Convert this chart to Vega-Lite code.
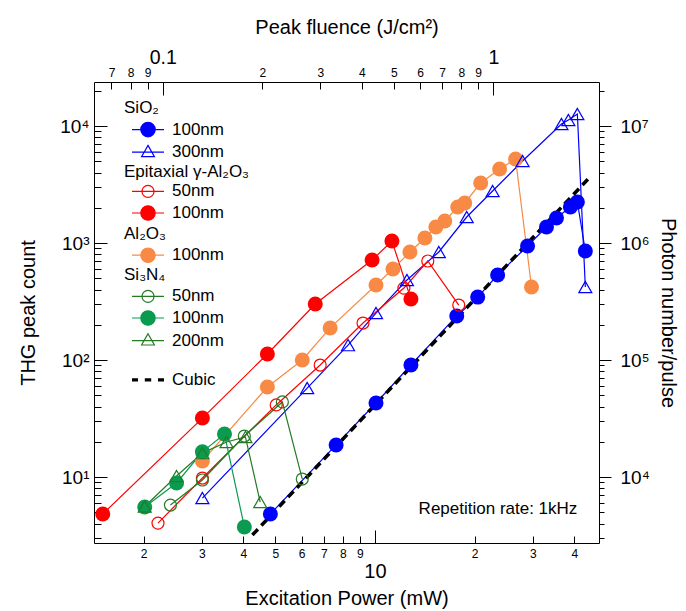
{
  "$schema": "https://vega.github.io/schema/vega-lite/v6.json",
  "width": 505,
  "height": 461,
  "autosize": {"type": "none"},
  "padding": {"left": 94, "top": 82, "right": 87, "bottom": 68},
  "background": "white",
  "config": {
    "font": "Liberation Sans",
    "view": {"stroke": null},
    "axis": {
      "grid": false,
      "domainColor": "#000000",
      "tickColor": "#000000",
      "labelColor": "#000000",
      "titleColor": "#000000",
      "titleFontWeight": "normal",
      "labelOverlap": false,
      "labelFlush": false,
      "labelBound": false,
      "domainWidth": 1,
      "tickWidth": 1,
      "titleFont": "Liberation Sans",
      "labelFont": "Liberation Sans"
    },
    "legend": {
      "orient": "none",
      "padding": 0,
      "labelFontSize": 17,
      "labelFont": "Liberation Sans",
      "labelColor": "#000000",
      "labelOffset": 15,
      "labelLimit": 300,
      "symbolSize": 256,
      "symbolStrokeWidth": 1.2,
      "symbolOffset": 0,
      "rowPadding": 2.6
    }
  },
  "datasets": {
    "thg": [
      {"series": "SiO₂ 100nm", "power": 4.83, "count": 4.83},
      {"series": "SiO₂ 100nm", "power": 7.63, "count": 18.8},
      {"series": "SiO₂ 100nm", "power": 10.07, "count": 42.9},
      {"series": "SiO₂ 100nm", "power": 12.84, "count": 90.6},
      {"series": "SiO₂ 100nm", "power": 17.66, "count": 238},
      {"series": "SiO₂ 100nm", "power": 20.43, "count": 345},
      {"series": "SiO₂ 100nm", "power": 23.47, "count": 533},
      {"series": "SiO₂ 100nm", "power": 28.9, "count": 943},
      {"series": "SiO₂ 100nm", "power": 32.97, "count": 1370},
      {"series": "SiO₂ 100nm", "power": 35.34, "count": 1636},
      {"series": "SiO₂ 100nm", "power": 38.94, "count": 2031},
      {"series": "SiO₂ 100nm", "power": 40.87, "count": 2241},
      {"series": "SiO₂ 100nm", "power": 43.2, "count": 854},
      {"series": "SiO₂ 300nm", "power": 3.01, "count": 6.61},
      {"series": "SiO₂ 300nm", "power": 6.24, "count": 57.6},
      {"series": "SiO₂ 300nm", "power": 8.29, "count": 134},
      {"series": "SiO₂ 300nm", "power": 10.07, "count": 252},
      {"series": "SiO₂ 300nm", "power": 12.49, "count": 483},
      {"series": "SiO₂ 300nm", "power": 15.59, "count": 838},
      {"series": "SiO₂ 300nm", "power": 18.93, "count": 1668},
      {"series": "SiO₂ 300nm", "power": 22.67, "count": 2783},
      {"series": "SiO₂ 300nm", "power": 27.92, "count": 5022},
      {"series": "SiO₂ 300nm", "power": 36.59, "count": 10402},
      {"series": "SiO₂ 300nm", "power": 38.4, "count": 11253},
      {"series": "SiO₂ 300nm", "power": 40.87, "count": 12665},
      {"series": "SiO₂ 300nm", "power": 43.2, "count": 421},
      {"series": "Epitaxial γ-Al₂O₃ 50nm", "power": 2.21, "count": 4.04},
      {"series": "Epitaxial γ-Al₂O₃ 50nm", "power": 3.01, "count": 9.8},
      {"series": "Epitaxial γ-Al₂O₃ 50nm", "power": 5.03, "count": 41.3},
      {"series": "Epitaxial γ-Al₂O₃ 50nm", "power": 6.83, "count": 90.6},
      {"series": "Epitaxial γ-Al₂O₃ 50nm", "power": 9.2, "count": 207},
      {"series": "Epitaxial γ-Al₂O₃ 50nm", "power": 12.23, "count": 412},
      {"series": "Epitaxial γ-Al₂O₃ 50nm", "power": 14.44, "count": 702},
      {"series": "Epitaxial γ-Al₂O₃ 50nm", "power": 17.91, "count": 295},
      {"series": "Epitaxial γ-Al₂O₃ 100nm", "power": 1.505, "count": 4.83},
      {"series": "Epitaxial γ-Al₂O₃ 100nm", "power": 3.01, "count": 31.9},
      {"series": "Epitaxial γ-Al₂O₃ 100nm", "power": 4.73, "count": 112.5},
      {"series": "Epitaxial γ-Al₂O₃ 100nm", "power": 6.6, "count": 301},
      {"series": "Epitaxial γ-Al₂O₃ 100nm", "power": 9.8, "count": 715},
      {"series": "Epitaxial γ-Al₂O₃ 100nm", "power": 11.25, "count": 1040},
      {"series": "Epitaxial γ-Al₂O₃ 100nm", "power": 12.84, "count": 332},
      {"series": "Al₂O₃ 100nm", "power": 3.01, "count": 13.7},
      {"series": "Al₂O₃ 100nm", "power": 4.73, "count": 58.8},
      {"series": "Al₂O₃ 100nm", "power": 6.03, "count": 100},
      {"series": "Al₂O₃ 100nm", "power": 7.32, "count": 188},
      {"series": "Al₂O₃ 100nm", "power": 10.07, "count": 438},
      {"series": "Al₂O₃ 100nm", "power": 11.33, "count": 600},
      {"series": "Al₂O₃ 100nm", "power": 12.75, "count": 838},
      {"series": "Al₂O₃ 100nm", "power": 14.15, "count": 1103},
      {"series": "Al₂O₃ 100nm", "power": 15.27, "count": 1370},
      {"series": "Al₂O₃ 100nm", "power": 16.25, "count": 1542},
      {"series": "Al₂O₃ 100nm", "power": 17.78, "count": 2031},
      {"series": "Al₂O₃ 100nm", "power": 18.67, "count": 2198},
      {"series": "Al₂O₃ 100nm", "power": 20.86, "count": 3257},
      {"series": "Al₂O₃ 100nm", "power": 23.8, "count": 4290},
      {"series": "Al₂O₃ 100nm", "power": 26.59, "count": 5224},
      {"series": "Al₂O₃ 100nm", "power": 29.71, "count": 421},
      {"series": "Si₃N₄ 50nm", "power": 2.41, "count": 5.76},
      {"series": "Si₃N₄ 50nm", "power": 3.01, "count": 9.43},
      {"series": "Si₃N₄ 50nm", "power": 4.03, "count": 22.4},
      {"series": "Si₃N₄ 50nm", "power": 5.25, "count": 43.8},
      {"series": "Si₃N₄ 50nm", "power": 6.03, "count": 9.61},
      {"series": "Si₃N₄ 100nm", "power": 2.015, "count": 5.54},
      {"series": "Si₃N₄ 100nm", "power": 2.515, "count": 8.89},
      {"series": "Si₃N₄ 100nm", "power": 3.01, "count": 16.4},
      {"series": "Si₃N₄ 100nm", "power": 3.51, "count": 23.3},
      {"series": "Si₃N₄ 100nm", "power": 4.03, "count": 3.74},
      {"series": "Si₃N₄ 200nm", "power": 2.015, "count": 5.6},
      {"series": "Si₃N₄ 200nm", "power": 2.515, "count": 10.2},
      {"series": "Si₃N₄ 200nm", "power": 3.01, "count": 16.0},
      {"series": "Si₃N₄ 200nm", "power": 3.56, "count": 19.9},
      {"series": "Si₃N₄ 200nm", "power": 4.06, "count": 22.0},
      {"series": "Si₃N₄ 200nm", "power": 4.5, "count": 6.11},
      {"series": "Cubic", "power": 4.262, "count": 3.194},
      {"series": "Cubic", "power": 44.12, "count": 3543}
    ]
  },
  "layer": [
    {
      "data": {"name": "thg"},
      "layer": [
        {
          "transform": [{"filter": "datum.series != 'Cubic'"}],
          "mark": {"type": "line", "strokeWidth": 1.2},
          "encoding": {
            "x": {
              "field": "power", "type": "quantitative",
              "scale": {"type": "log", "domain": [1.416, 47.51], "nice": false},
              "axis": {
                "orient": "bottom",
                "values": [2, 3, 4, 5, 6, 7, 8, 9, 10, 20, 30, 40],
                "labelExpr": "datum.value == 10 ? '10' : datum.value < 10 ? format(datum.value, 'd') : format(datum.value / 10, 'd')",
                "labelFontSize": {"condition": {"test": "datum.value == 10", "value": 20}, "value": 12},
                "tickSize": {"condition": {"test": "datum.value == 10", "value": -13}, "value": -7},
                "labelPadding": {"condition": {"test": "datum.value == 10", "value": 31}, "value": 12},
                "title": "Excitation Power (mW)",
                "titleFontSize": 20,
                "titlePadding": 7
              }
            },
            "y": {
              "field": "count", "type": "quantitative",
              "scale": {"type": "log", "domain": [2.729, 23774], "nice": false},
              "axis": {
                "orient": "left",
                "values": [3, 4, 5, 6, 7, 8, 9, 10, 20, 30, 40, 50, 60, 70, 80, 90, 100, 200, 300, 400, 500, 600, 700, 800, 900, 1000, 2000, 3000, 4000, 5000, 6000, 7000, 8000, 9000, 10000, 20000],
                "labelExpr": "datum.value == 10 ? '10¹' : datum.value == 100 ? '10²' : datum.value == 1000 ? '10³' : datum.value == 10000 ? '10⁴' : ''",
                "labelFontSize": 19,
                "tickSize": {"condition": {"test": "datum.value == 10 || datum.value == 100 || datum.value == 1000 || datum.value == 10000", "value": -13}, "value": -7},
                "labelPadding": 18,
                "title": "THG peak count",
                "titleFontSize": 20,
                "titlePadding": 21
              }
            },
            "color": {
              "field": "series", "type": "nominal",
              "scale": {
                "domain": ["SiO₂ 100nm", "SiO₂ 300nm", "Epitaxial γ-Al₂O₃ 50nm", "Epitaxial γ-Al₂O₃ 100nm", "Al₂O₃ 100nm", "Si₃N₄ 50nm", "Si₃N₄ 100nm", "Si₃N₄ 200nm"],
                "range": ["#0000ff", "#0000ff", "#ff0000", "#ff0000", "#f98a46", "#237b23", "#0a9a50", "#237b23"]
              },
              "legend": null
            }
          }
        },
        {
          "transform": [{"filter": "datum.series == 'Cubic'"}],
          "mark": {"type": "line", "color": "#000000", "strokeWidth": 3.5, "strokeDash": [8, 5]},
          "encoding": {
            "x": {"field": "power", "type": "quantitative"},
            "y": {"field": "count", "type": "quantitative"}
          }
        },
        {
          "transform": [{"filter": {"field": "series", "oneOf": ["SiO₂ 100nm", "Epitaxial γ-Al₂O₃ 100nm", "Al₂O₃ 100nm", "Si₃N₄ 100nm"]}}],
          "mark": {"type": "point", "shape": "circle", "filled": true, "size": 225, "opacity": 1},
          "encoding": {
            "x": {"field": "power", "type": "quantitative"},
            "y": {"field": "count", "type": "quantitative"},
            "color": {"field": "series", "type": "nominal", "legend": null}
          }
        },
        {
          "transform": [{"filter": {"field": "series", "oneOf": ["Epitaxial γ-Al₂O₃ 50nm", "Si₃N₄ 50nm"]}}],
          "mark": {"type": "point", "shape": "circle", "filled": false, "size": 144, "strokeWidth": 1.2, "opacity": 1},
          "encoding": {
            "x": {"field": "power", "type": "quantitative"},
            "y": {"field": "count", "type": "quantitative"},
            "color": {"field": "series", "type": "nominal", "legend": null}
          }
        },
        {
          "transform": [{"filter": {"field": "series", "oneOf": ["SiO₂ 300nm", "Si₃N₄ 200nm"]}}],
          "mark": {"type": "point", "shape": "triangle-up", "filled": false, "size": 169, "strokeWidth": 1.2, "opacity": 1},
          "encoding": {
            "x": {"field": "power", "type": "quantitative"},
            "y": {"field": "count", "type": "quantitative"},
            "color": {"field": "series", "type": "nominal", "legend": null}
          }
        },
        {
          "data": {"values": [{"note": "Repetition rate: 1kHz"}]},
          "mark": {"type": "text", "align": "right", "baseline": "middle", "fontSize": 17, "font": "Liberation Sans", "color": "#000000"},
          "encoding": {
            "text": {"field": "note"},
            "x": {"datum": 40.87, "type": "quantitative"},
            "y": {"datum": 5.33, "type": "quantitative"}
          }
        },
        {
          "data": {"values": [{"group": "SiO₂"}]},
          "mark": {"type": "text", "align": "left", "baseline": "middle", "fontSize": 17, "font": "Liberation Sans", "color": "#000000"},
          "encoding": {
            "text": {"field": "group"},
            "x": {"datum": 1.745, "type": "quantitative"},
            "y": {"datum": 14250, "type": "quantitative"}
          }
        },
        {
          "data": {"values": [{"group": "Epitaxial γ-Al₂O₃"}]},
          "mark": {"type": "text", "align": "left", "baseline": "middle", "fontSize": 17, "font": "Liberation Sans", "color": "#000000"},
          "encoding": {
            "text": {"field": "group"},
            "x": {"datum": 1.745, "type": "quantitative"},
            "y": {"datum": 4044, "type": "quantitative"}
          }
        },
        {
          "data": {"values": [{"group": "Al₂O₃"}]},
          "mark": {"type": "text", "align": "left", "baseline": "middle", "fontSize": 17, "font": "Liberation Sans", "color": "#000000"},
          "encoding": {
            "text": {"field": "group"},
            "x": {"datum": 1.745, "type": "quantitative"},
            "y": {"datum": 1194, "type": "quantitative"}
          }
        },
        {
          "data": {"values": [{"group": "Si₃N₄"}]},
          "mark": {"type": "text", "align": "left", "baseline": "middle", "fontSize": 17, "font": "Liberation Sans", "color": "#000000"},
          "encoding": {
            "text": {"field": "group"},
            "x": {"datum": 1.745, "type": "quantitative"},
            "y": {"datum": 532.7, "type": "quantitative"}
          }
        },
        {
          "data": {"values": []},
          "mark": {"type": "point", "filled": true, "opacity": 1},
          "encoding": {
            "shape": {
              "field": "series", "type": "nominal",
              "scale": {
                "domain": ["SiO₂", "SiO₂ 100nm", "SiO₂ 300nm", "Epitaxial γ-Al₂O₃", "Epitaxial γ-Al₂O₃ 50nm", "Epitaxial γ-Al₂O₃ 100nm", "Al₂O₃", "Al₂O₃ 100nm", "Si₃N₄", "Si₃N₄ 50nm", "Si₃N₄ 100nm", "Si₃N₄ 200nm", " ", "Cubic"],
                "range": [
                  "M-2,0H2",
                  "M-2,0H2M0.9,0A0.9 0.9 0 1 1 -0.9,0A0.9 0.9 0 1 1 0.9,0Z",
                  "M-2,0H2M0,-0.85L0.8,0.55L-0.8,0.55Z",
                  "M-2,0H2",
                  "M-2,0H2M0.75,0A0.75 0.75 0 1 1 -0.75,0A0.75 0.75 0 1 1 0.75,0Z",
                  "M-2,0H2M0.9,0A0.9 0.9 0 1 1 -0.9,0A0.9 0.9 0 1 1 0.9,0Z",
                  "M-2,0H2",
                  "M-2,0H2M0.9,0A0.9 0.9 0 1 1 -0.9,0A0.9 0.9 0 1 1 0.9,0Z",
                  "M-2,0H2",
                  "M-2,0H2M0.75,0A0.75 0.75 0 1 1 -0.75,0A0.75 0.75 0 1 1 0.75,0Z",
                  "M-2,0H2M0.9,0A0.9 0.9 0 1 1 -0.9,0A0.9 0.9 0 1 1 0.9,0Z",
                  "M-2,0H2M0,-0.85L0.8,0.55L-0.8,0.55Z",
                  "M-2,0H2",
                  "M-2,-0.2H-1.25V0.2H-2ZM-0.4,-0.2H0.4V0.2H-0.4ZM1.25,-0.2H2V0.2H1.25Z"
                ]
              },
              "legend": {
                "title": null, "legendX": 45, "legendY": 18,
                "labelExpr": "indexof(datum.label, 'nm') > 0 ? peek(split(datum.label, ' ')) : datum.label == 'Cubic' ? 'Cubic' : ' '"
              }
            },
            "fill": {
              "field": "series", "type": "nominal",
              "scale": {
                "domain": ["SiO₂", "SiO₂ 100nm", "SiO₂ 300nm", "Epitaxial γ-Al₂O₃", "Epitaxial γ-Al₂O₃ 50nm", "Epitaxial γ-Al₂O₃ 100nm", "Al₂O₃", "Al₂O₃ 100nm", "Si₃N₄", "Si₃N₄ 50nm", "Si₃N₄ 100nm", "Si₃N₄ 200nm", " ", "Cubic"],
                "range": ["transparent", "#0000ff", "transparent", "transparent", "transparent", "#ff0000", "transparent", "#f98a46", "transparent", "transparent", "#0a9a50", "transparent", "transparent", "#000000"]
              },
              "legend": {
                "title": null, "legendX": 45, "legendY": 18,
                "labelExpr": "indexof(datum.label, 'nm') > 0 ? peek(split(datum.label, ' ')) : datum.label == 'Cubic' ? 'Cubic' : ' '"
              }
            },
            "stroke": {
              "field": "series", "type": "nominal",
              "scale": {
                "domain": ["SiO₂", "SiO₂ 100nm", "SiO₂ 300nm", "Epitaxial γ-Al₂O₃", "Epitaxial γ-Al₂O₃ 50nm", "Epitaxial γ-Al₂O₃ 100nm", "Al₂O₃", "Al₂O₃ 100nm", "Si₃N₄", "Si₃N₄ 50nm", "Si₃N₄ 100nm", "Si₃N₄ 200nm", " ", "Cubic"],
                "range": ["transparent", "#0000ff", "#0000ff", "transparent", "#ff0000", "#ff0000", "transparent", "#f98a46", "transparent", "#237b23", "#0a9a50", "#237b23", "transparent", "transparent"]
              },
              "legend": {
                "title": null, "legendX": 45, "legendY": 18,
                "labelExpr": "indexof(datum.label, 'nm') > 0 ? peek(split(datum.label, ' ')) : datum.label == 'Cubic' ? 'Cubic' : ' '"
              }
            }
          }
        }
      ]
    },
    {
      "data": {"values": []},
      "mark": {"type": "point", "opacity": 0},
      "encoding": {
        "x": {
          "field": "fluence", "type": "quantitative",
          "scale": {"type": "log", "domain": [0.06197, 2.0876], "nice": false},
          "axis": {
            "orient": "top",
            "values": [0.07, 0.08, 0.09, 0.1, 0.2, 0.3, 0.4, 0.5, 0.6, 0.7, 0.8, 0.9, 1],
            "labelExpr": "datum.value == 0.1 ? '0.1' : datum.value == 1 ? '1' : datum.value < 0.1 ? format(datum.value * 100, '.0f') : format(datum.value * 10, '.0f')",
            "labelFontSize": {"condition": {"test": "datum.value == 0.1 || datum.value == 1", "value": 19.5}, "value": 12},
            "tickSize": {"condition": {"test": "datum.value == 0.1 || datum.value == 1", "value": -13}, "value": -7},
            "labelPadding": {"condition": {"test": "datum.value == 0.1 || datum.value == 1", "value": 27.6}, "value": 9.7},
            "title": "Peak fluence (J/cm²)",
            "titleFontSize": 20,
            "titlePadding": 10
          }
        },
        "y": {
          "field": "photons", "type": "quantitative",
          "scale": {"type": "log", "domain": [2729, 23774000], "nice": false},
          "axis": {
            "orient": "right",
            "values": [3000, 4000, 5000, 6000, 7000, 8000, 9000, 10000, 20000, 30000, 40000, 50000, 60000, 70000, 80000, 90000, 100000, 200000, 300000, 400000, 500000, 600000, 700000, 800000, 900000, 1000000, 2000000, 3000000, 4000000, 5000000, 6000000, 7000000, 8000000, 9000000, 10000000, 20000000],
            "labelExpr": "datum.value == 10000 ? '10⁴' : datum.value == 100000 ? '10⁵' : datum.value == 1000000 ? '10⁶' : datum.value == 10000000 ? '10⁷' : ''",
            "labelFontSize": 19,
            "tickSize": {"condition": {"test": "datum.value == 10000 || datum.value == 100000 || datum.value == 1000000 || datum.value == 10000000", "value": 12}, "value": 5},
            "labelPadding": 9,
            "title": "Photon number/pulse",
            "titleFontSize": 20,
            "titlePadding": 8
          }
        }
      }
    }
  ],
  "resolve": {"scale": {"x": "independent", "y": "independent"}}
}
